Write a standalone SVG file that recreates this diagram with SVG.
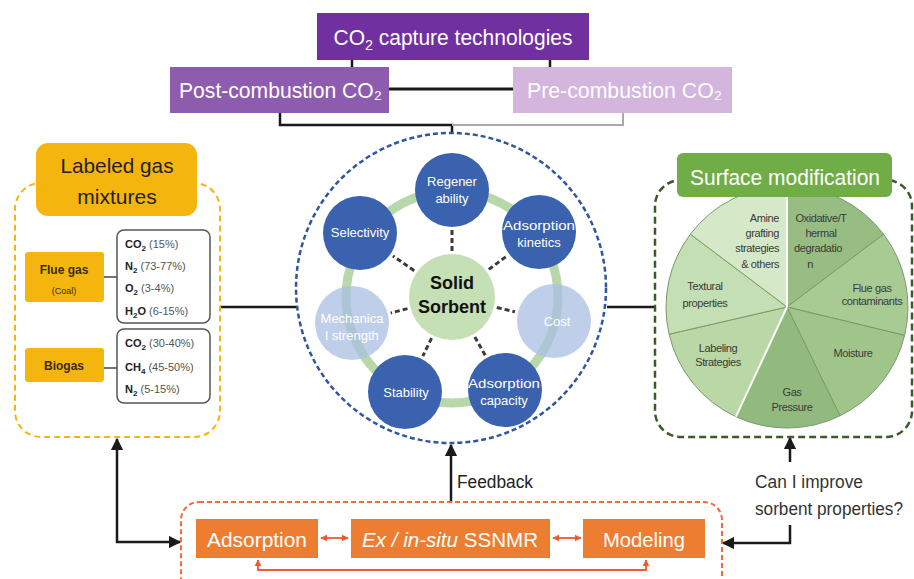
<svg xmlns="http://www.w3.org/2000/svg" width="914" height="579" viewBox="0 0 914 579">
<defs>
<style>
text{font-family:"Liberation Sans",Arial,sans-serif}
.w{fill:#fff}
.tc{text-anchor:middle}
.sat{fill:#3b62ae}
.satl{fill:#a9bfe3;opacity:0.75}
.satt{fill:#fff;font-size:13px;text-anchor:middle}
.spoke{stroke:#3a3a3a;stroke-width:3;stroke-dasharray:5 3;fill:none}
.blk{stroke:#1a1a1a;stroke-width:2.5;fill:none}
.org{stroke:#ee5a2f;stroke-width:1.8;fill:none}
.gas{font-size:11px;fill:#555}
.gb{font-weight:bold;fill:#222}
.pie{font-size:11px;fill:#3a3a3a;letter-spacing:-0.4px}
.obox{fill:#ed7d31}
.ot{fill:#fff;font-size:21px;text-anchor:middle}
</style>
<marker id="ab" viewBox="0 0 10 10" refX="9" refY="5" markerWidth="5" markerHeight="5" orient="auto-start-reverse" markerUnits="strokeWidth"><path d="M0,0 L10,5 L0,10 Z" fill="#1a1a1a"/></marker>
<marker id="ao" viewBox="0 0 10 10" refX="9" refY="5" markerWidth="4" markerHeight="4" orient="auto-start-reverse" markerUnits="strokeWidth"><path d="M0,0 L10,5 L0,10 Z" fill="#ee5a2f"/></marker>
</defs>
<rect width="914" height="579" fill="#fff"/>

<g id="connectors">
<path class="blk" d="M352 60 V67 M550 60 V67"/>
<path d="M389 89 H513" stroke="#1a1a1a" stroke-width="3"/>
<path class="blk" d="M280 113 V125 H452 V133"/>
<path d="M452 125 H623 V113" stroke="#aaa" stroke-width="2" fill="none"/>
<path class="blk" d="M220 307 H297 M607 307 H655"/>
<path class="blk" d="M117 439 V542 H180" marker-start="url(#ab)" marker-end="url(#ab)"/>
<path class="blk" d="M451 502 V445" marker-end="url(#ab)"/>
<path class="blk" d="M790 462 V438" marker-end="url(#ab)"/>
<path class="blk" d="M790 525 V543 H723" marker-end="url(#ab)"/>
<path class="org" d="M321 538 H348" marker-start="url(#ao)" marker-end="url(#ao)"/>
<path class="org" d="M553 538 H581" marker-start="url(#ao)" marker-end="url(#ao)"/>
<path class="org" d="M258 560 V570 H646 V560" marker-start="url(#ao)" marker-end="url(#ao)"/>
</g>

<g id="co2-capture">
<rect x="317" y="13" width="272" height="47" fill="#7030a0"/>
<text class="w tc" x="453" y="45" font-size="22" textLength="239" lengthAdjust="spacingAndGlyphs">CO<tspan font-size="15" dy="5">2</tspan><tspan dy="-5"> capture technologies</tspan></text>
</g>
<g id="post-combustion">
<rect x="170" y="67" width="219" height="46" fill="#8e5cae"/>
<text class="w" x="179" y="98" font-size="22" textLength="203" lengthAdjust="spacingAndGlyphs">Post-combustion CO₂</text>
</g>
<g id="pre-combustion">
<rect x="513" y="67" width="219" height="46" fill="#d3b5de"/>
<text class="w" x="527" y="98" font-size="22" textLength="195" lengthAdjust="spacingAndGlyphs">Pre-combustion CO₂</text>
</g>

<g id="labeled-gas-mixtures">
<rect x="15" y="183" width="205" height="254" rx="26" fill="none" stroke="#f5b50f" stroke-width="2" stroke-dasharray="6 4"/>
<rect x="36" y="143" width="161" height="73" rx="12" fill="#f5b50f"/>
<text class="tc" x="117" y="173" font-size="21" fill="#222" textLength="113" lengthAdjust="spacingAndGlyphs">Labeled gas</text>
<text class="tc" x="117" y="204" font-size="21" fill="#222">mixtures</text>
</g>
<g id="flue-gas">
<rect x="25" y="252" width="79" height="50" rx="3" fill="#f5b50f"/>
<text class="tc" x="64" y="274" font-size="12" font-weight="bold" fill="#3a2c00">Flue gas</text>
<text class="tc" x="64" y="294" font-size="9" fill="#3a2c00">(Coal)</text>
<path d="M104 277 H117" stroke="#444" stroke-width="1.5"/>
<rect x="117" y="230" width="93" height="93" rx="7" fill="#fff" stroke="#555" stroke-width="1.5"/>
<text class="gas" x="125" y="248"><tspan class="gb">CO<tspan font-size="8" dy="3">2</tspan></tspan><tspan dy="-3"> (15%)</tspan></text>
<text class="gas" x="125" y="270"><tspan class="gb">N<tspan font-size="8" dy="3">2</tspan></tspan><tspan dy="-3"> (73-77%)</tspan></text>
<text class="gas" x="125" y="292"><tspan class="gb">O<tspan font-size="8" dy="3">2</tspan></tspan><tspan dy="-3"> (3-4%)</tspan></text>
<text class="gas" x="125" y="315"><tspan class="gb">H<tspan font-size="8" dy="3">2</tspan><tspan dy="-3">O</tspan></tspan><tspan>  (6-15%)</tspan></text>
</g>
<g id="biogas">
<rect x="25" y="348" width="79" height="34" rx="3" fill="#f5b50f"/>
<text class="tc" x="64" y="370" font-size="12" font-weight="bold" fill="#3a2c00">Biogas</text>
<path d="M104 368 H117" stroke="#444" stroke-width="1.5"/>
<rect x="117" y="329" width="93" height="74" rx="7" fill="#fff" stroke="#555" stroke-width="1.5"/>
<text class="gas" x="125" y="347"><tspan class="gb">CO<tspan font-size="8" dy="3">2</tspan></tspan><tspan dy="-3"> (30-40%)</tspan></text>
<text class="gas" x="125" y="371"><tspan class="gb">CH<tspan font-size="8" dy="3">4</tspan></tspan><tspan dy="-3"> (45-50%)</tspan></text>
<text class="gas" x="125" y="393"><tspan class="gb">N<tspan font-size="8" dy="3">2</tspan></tspan><tspan dy="-3"> (5-15%)</tspan></text>
</g>

<g id="solid-sorbent-panel">
<circle cx="451" cy="288" r="155" fill="none" stroke="#2f56a0" stroke-width="2.5" stroke-dasharray="5 3"/>
<circle cx="452" cy="297" r="106" fill="none" stroke="#b8d8aa" stroke-width="9"/>
<path class="spoke" d="M452 251 V230 M488.8 269.4 L507 255.9 M496.8 307.5 L515 311.8 M474.8 337 L485.2 355.2 M431.6 338.2 L422.8 356.1 M407.5 308.6 L390.7 313 M414.2 270.7 L392.9 255.9"/>
</g>
<g id="regenerability">
<circle class="sat" cx="452" cy="190" r="37"/>
<text class="satt" x="452" y="186">Regener</text>
<text class="satt" x="452" y="203">ability</text>
</g>
<g id="adsorption-kinetics">
<circle class="sat" cx="539" cy="232" r="37"/>
<text class="satt" x="539" y="230" textLength="72" lengthAdjust="spacingAndGlyphs">Adsorption</text>
<text class="satt" x="539" y="247">kinetics</text>
</g>
<g id="cost">
<circle class="satl" cx="554" cy="321" r="37"/>
<text class="satt" x="557" y="326">Cost</text>
</g>
<g id="adsorption-capacity">
<circle class="sat" cx="505" cy="390" r="37"/>
<text class="satt" x="504" y="388" textLength="72" lengthAdjust="spacingAndGlyphs">Adsorption</text>
<text class="satt" x="504" y="405">capacity</text>
</g>
<g id="stability">
<circle class="sat" cx="405" cy="392" r="37"/>
<text class="satt" x="406" y="397">Stability</text>
</g>
<g id="mechanical-strength">
<circle class="satl" cx="352" cy="323" r="37"/>
<text class="satt" x="352" y="323">Mechanica</text>
<text class="satt" x="352" y="340">l strength</text>
</g>
<g id="selectivity">
<circle class="sat" cx="360" cy="233" r="37"/>
<text class="satt" x="360" y="237">Selectivity</text>
</g>
<g id="solid-sorbent">
<circle cx="452" cy="297" r="43" fill="#c5e0b4"/>
<text class="tc" x="452" y="289" font-size="18" font-weight="bold" fill="#111">Solid</text>
<text class="tc" x="452" y="313" font-size="18" font-weight="bold" fill="#111">Sorbent</text>
</g>

<g id="surface-modification">
<rect x="655" y="180" width="257" height="257" rx="26" fill="none" stroke="#3b5a2b" stroke-width="2.5" stroke-dasharray="7 4"/>
<g stroke="#7a9a6a" stroke-width="1">
<path d="M787 307 L787 186 A121 121 0 0 1 883.6 234.2 Z" fill="#97bd82"/>
<path d="M787 307 L883.6 234.2 A121 121 0 0 1 904.6 335.4 Z" fill="#a8cb94"/>
<path d="M787 307 L904.6 335.4 A121 121 0 0 1 840 415.8 Z" fill="#a0c58b"/>
<path d="M787 307 L840 415.8 A121 121 0 0 1 735.9 416.7 Z" fill="#92ba7e"/>
<path d="M787 307 L735.9 416.7 A121 121 0 0 1 669.1 334.2 Z" fill="#b9d8a5"/>
<path d="M787 307 L669.1 334.2 A121 121 0 0 1 690.4 234.2 Z" fill="#c4dfb3"/>
<path d="M787 307 L690.4 234.2 A121 121 0 0 1 787 186 Z" fill="#d5e9c8"/>
</g>
<path d="M787 307 V186 M787 307 L735.9 416.7" stroke="#fff" stroke-width="2"/>
<text class="pie" x="779" y="222" text-anchor="end">Amine</text>
<text class="pie" x="779" y="237" text-anchor="end">grafting</text>
<text class="pie" x="779" y="252" text-anchor="end">strategies</text>
<text class="pie" x="779" y="268" text-anchor="end">&amp; others</text>
<text class="pie tc" x="821" y="222">Oxidative/T</text>
<text class="pie tc" x="821" y="237">hermal</text>
<text class="pie tc" x="818" y="252">degradatio</text>
<text class="pie tc" x="810" y="268">n</text>
<text class="pie tc" x="872" y="292" font-size="9.5">Flue gas</text>
<text class="pie tc" x="872" y="305" font-size="9.5">contaminants</text>
<text class="pie tc" x="853" y="357">Moisture</text>
<text class="pie tc" x="792" y="396">Gas</text>
<text class="pie tc" x="792" y="411">Pressure</text>
<text class="pie tc" x="718" y="352">Labeling</text>
<text class="pie tc" x="718" y="366">Strategies</text>
<text class="pie tc" x="705" y="290">Textural</text>
<text class="pie tc" x="705" y="307">properties</text>
<rect x="677" y="153" width="215" height="44" rx="6" fill="#70ad47"/>
<text class="w tc" x="785" y="185" font-size="22" textLength="190" lengthAdjust="spacingAndGlyphs">Surface modification</text>
</g>

<g id="methods">
<rect x="181" y="502" width="541" height="100" rx="18" fill="none" stroke="#f26b3a" stroke-width="2" stroke-dasharray="5 3"/>
</g>
<g id="adsorption">
<rect class="obox" x="196" y="519" width="122" height="39"/>
<text class="ot" x="257" y="547" textLength="100" lengthAdjust="spacingAndGlyphs">Adsorption</text>
</g>
<g id="ssnmr">
<rect class="obox" x="351" y="519" width="199" height="39"/>
<text class="ot" x="450" y="547" textLength="176" lengthAdjust="spacingAndGlyphs"><tspan font-style="italic">Ex / in-situ</tspan> SSNMR</text>
</g>
<g id="modeling">
<rect class="obox" x="583" y="519" width="122" height="39"/>
<text class="ot" x="644" y="547" textLength="82" lengthAdjust="spacingAndGlyphs">Modeling</text>
</g>
<g id="labels">
<text x="457" y="488" font-size="17.5" fill="#222" textLength="76" lengthAdjust="spacingAndGlyphs">Feedback</text>
<text x="755" y="488" font-size="17.5" fill="#333" textLength="108" lengthAdjust="spacingAndGlyphs">Can I improve</text>
<text x="755" y="515" font-size="17.5" fill="#333" textLength="148" lengthAdjust="spacingAndGlyphs">sorbent properties?</text>
</g>
</svg>
